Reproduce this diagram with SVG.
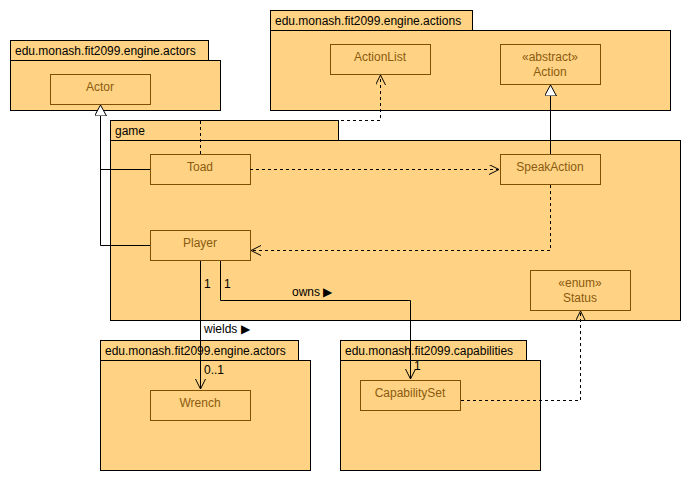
<svg xmlns="http://www.w3.org/2000/svg" width="690" height="480" viewBox="0 0 690 480">
<defs>
<style>
.pkg{fill:#FFD383;stroke:#000;stroke-width:1}
.cls{fill:#FFD383;stroke:#7F5000;stroke-width:1}
.pt{font-family:"Liberation Sans",Arial,sans-serif;font-size:12px;fill:#000}
.ct{font-family:"Liberation Sans",Arial,sans-serif;font-size:12px;fill:#8A5A10;text-anchor:middle}
.ln{fill:none;stroke:#000;stroke-width:1}
.dash{stroke-dasharray:3,3}
.lbl{font-family:"Liberation Sans",Arial,sans-serif;font-size:12px;fill:#000}
</style>
<marker id="open" markerWidth="12" markerHeight="12" refX="10" refY="5" orient="auto" markerUnits="userSpaceOnUse">
<path d="M0,0 L10,5 L0,10" fill="none" stroke="#000" stroke-width="1"/>
</marker>
<marker id="tri" markerWidth="14" markerHeight="14" refX="11" refY="6" orient="auto" markerUnits="userSpaceOnUse">
<path d="M0,0 L11,6 L0,12 Z" fill="#fff" stroke="#000" stroke-width="1"/>
</marker>
</defs>
<rect width="690" height="480" fill="#fff"/>

<g id="pkg-actors-top">
<rect class="pkg" x="10.5" y="40.5" width="198" height="20"/>
<rect class="pkg" x="10.5" y="60.5" width="210" height="50"/>
<text class="pt" x="15" y="55">edu.monash.fit2099.engine.actors</text>
</g>
<g id="pkg-actions">
<rect class="pkg" x="270.5" y="10.5" width="202" height="20"/>
<rect class="pkg" x="270.5" y="30.5" width="400" height="80"/>
<text class="pt" x="275" y="25">edu.monash.fit2099.engine.actions</text>
</g>
<g id="pkg-game">
<rect class="pkg" x="110.5" y="120.5" width="228" height="20"/>
<rect class="pkg" x="110.5" y="140.5" width="570" height="180"/>
<text class="pt" x="115" y="135">game</text>
</g>
<g id="pkg-actors-bottom">
<rect class="pkg" x="100.5" y="340.5" width="198" height="20"/>
<rect class="pkg" x="100.5" y="360.5" width="210" height="110"/>
<text class="pt" x="105" y="355">edu.monash.fit2099.engine.actors</text>
</g>
<g id="pkg-capabilities">
<rect class="pkg" x="340.5" y="340.5" width="186" height="20"/>
<rect class="pkg" x="340.5" y="360.5" width="200" height="110"/>
<text class="pt" x="345" y="355">edu.monash.fit2099.capabilities</text>
</g>

<g id="Actor"><rect class="cls" x="50.5" y="74.5" width="100" height="30"/><text class="ct" x="100" y="91">Actor</text></g>
<g id="ActionList"><rect class="cls" x="330.5" y="44.5" width="100" height="30"/><text class="ct" x="380" y="61">ActionList</text></g>
<g id="Action"><rect class="cls" x="500.5" y="44.5" width="100" height="40"/><text class="ct" x="550" y="61">«abstract»</text><text class="ct" x="550" y="76">Action</text></g>
<g id="Toad"><rect class="cls" x="150.5" y="154.5" width="100" height="30"/><text class="ct" x="200" y="171">Toad</text></g>
<g id="SpeakAction"><rect class="cls" x="500.5" y="154.5" width="100" height="30"/><text class="ct" x="550" y="171">SpeakAction</text></g>
<g id="Player"><rect class="cls" x="150.5" y="230.5" width="100" height="30"/><text class="ct" x="200" y="247">Player</text></g>
<g id="Status"><rect class="cls" x="530.5" y="270.5" width="100" height="40"/><text class="ct" x="580" y="287">«enum»</text><text class="ct" x="580" y="302">Status</text></g>
<g id="Wrench"><rect class="cls" x="150.5" y="390.5" width="100" height="30"/><text class="ct" x="200" y="407">Wrench</text></g>
<g id="CapabilitySet"><rect class="cls" x="360.5" y="380.5" width="100" height="30"/><text class="ct" x="410" y="397">CapabilitySet</text></g>

<g id="connectors">
<path class="ln dash" d="M200.5,154 L200.5,120.5 L380.5,120.5 L380.5,75" marker-end="url(#open)"/>
<path class="ln" d="M150,245.5 L100.5,245.5 L100.5,105" marker-end="url(#tri)"/>
<path class="ln" d="M150,169.5 L100.5,169.5"/>
<path class="ln dash" d="M250,169.5 L499,169.5" marker-end="url(#open)"/>
<path class="ln" d="M550.5,154 L550.5,85" marker-end="url(#tri)"/>
<path class="ln dash" d="M550.5,185 L550.5,250.5 L251,250.5" marker-end="url(#open)"/>
<path class="ln" d="M200.5,261 L200.5,389" marker-end="url(#open)"/>
<path class="ln" d="M220.5,261 L220.5,300.5 L410.5,300.5 L410.5,379" marker-end="url(#open)"/>
<path class="ln dash" d="M461,400.5 L580.5,400.5 L580.5,311" marker-end="url(#open)"/>
<text class="lbl" x="204" y="288">1</text>
<text class="lbl" x="224" y="288">1</text>
<text class="lbl" x="292" y="296">owns ▶</text>
<text class="lbl" x="204" y="333">wields ▶</text>
<text class="lbl" x="204" y="374">0..1</text>
<text class="lbl" x="414" y="370">1</text>
</g>
</svg>
